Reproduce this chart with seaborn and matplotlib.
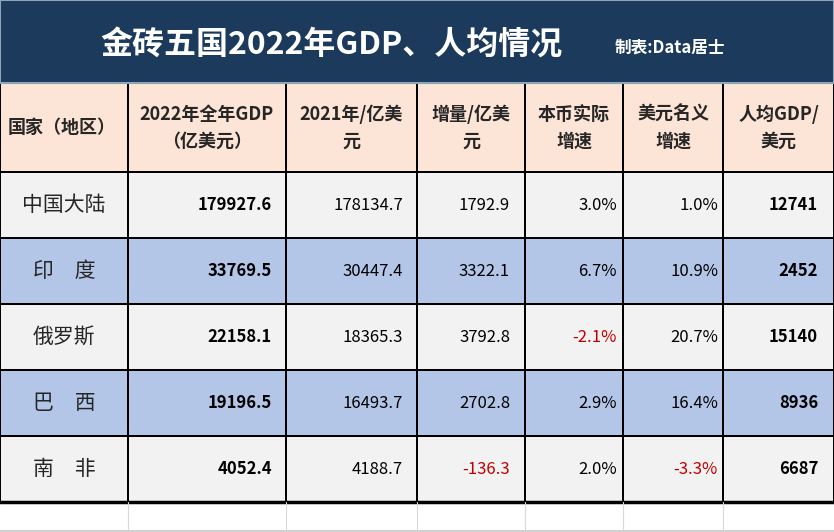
"""
BRICS 2022 GDP table recreated with seaborn heatmaps (one per column).
"""

# =============== IMPORTS ===============
import numpy as np
import matplotlib.pyplot as plt
import seaborn as sns
from matplotlib.colors import ListedColormap
from matplotlib.patches import Rectangle
from matplotlib.lines import Line2D


# =============== DATA ===============
title = "金砖五国2022年GDP、人均情况"
credit = "制表:Data居士"

headers = [
    "国家（地区）",
    "2022年全年GDP\n（亿美元）",
    "2021年/亿美\n元",
    "增量/亿美\n元",
    "本币实际\n增速",
    "美元名义\n增速",
    "人均GDP/\n美元",
]

countries = ["中国大陆", "印　度", "俄罗斯", "巴　西", "南　非"]
gdp_2022 = [179927.6, 33769.5, 22158.1, 19196.5, 4052.4]
gdp_2021 = [178134.7, 30447.4, 18365.3, 16493.7, 4188.7]
increase = [1792.9, 3322.1, 3792.8, 2702.8, -136.3]
local_growth = [3.0, 6.7, -2.1, 2.9, 2.0]
usd_growth = [1.0, 10.9, 20.7, 16.4, -3.3]
per_capita = [12741, 2452, 15140, 8936, 6687]

# row shading: 0 = light gray, 1 = blue
row_shade = [0, 1, 0, 1, 0]


# =============== STYLE ===============
sns.set_style("white")
plt.rcParams["font.family"] = ["Noto Sans CJK SC", "DejaVu Sans"]

NAVY = "#1C3A5B"
PEACH = "#FCE4D6"
GRAY = "#F2F2F2"
BLUE = "#B4C6E7"
RED = "#C00000"

W, H = 834, 532
col_edges = [0, 128, 286, 417, 525, 623, 723, 834]
header_top, header_bottom, body_bottom = 83, 172, 502


def rect(x0, x1, y0, y1):
    return [x0 / W, 1 - y1 / H, (x1 - x0) / W, (y1 - y0) / H]


fig = plt.figure(figsize=(W / 100, H / 100), dpi=100)
fig.patch.set_facecolor("white")

# title band
fig.add_artist(Rectangle((0, 1 - header_top / H), 1, header_top / H,
                         transform=fig.transFigure, facecolor=NAVY,
                         edgecolor="#8FA3B8", linewidth=1.5))
fig.text(331 / W, 1 - 46 / H, title, color="white", fontsize=23,
         fontweight="bold", ha="center", va="center")
fig.text(670 / W, 1 - 47 / H, credit, color="white", fontsize=12,
         fontweight="bold", ha="center", va="center")


# =============== CELL TEXTS ===============
def fmt1(v):
    return f"{v:.1f}"


def pct(v):
    return f"{v:.1f}%"


columns = [
    ([c for c in countries], "center", False, [False] * 5),
    ([fmt1(v) for v in gdp_2022], "right", True, [False] * 5),
    ([fmt1(v) for v in gdp_2021], "right", False, [False] * 5),
    ([fmt1(v) for v in increase], "right", False, [v < 0 for v in increase]),
    ([pct(v) for v in local_growth], "right", False, [v < 0 for v in local_growth]),
    ([pct(v) for v in usd_growth], "right", False, [v < 0 for v in usd_growth]),
    ([str(v) for v in per_capita], "right", True, [False] * 5),
]
right_pad = [0, 14, 14, 15, 6, 5, 16]

body_cmap = ListedColormap([GRAY, BLUE])
head_cmap = ListedColormap([PEACH])

for i in range(7):
    x0, x1 = col_edges[i], col_edges[i + 1]
    width = x1 - x0

    # header cell
    axh = fig.add_axes(rect(x0, x1, header_top, header_bottom))
    sns.heatmap(np.zeros((1, 1)), ax=axh, cmap=head_cmap, cbar=False,
                linewidths=1.2, linecolor="black",
                xticklabels=False, yticklabels=False)
    if i == 0:
        axh.text(8 / width, 0.5, headers[i], ha="left", va="center",
                 fontsize=13, fontweight="bold", transform=axh.transData)
    else:
        axh.text(0.5, 0.5, headers[i], ha="center", va="center",
                 fontsize=13, fontweight="bold", linespacing=1.5)

    # body cells
    axb = fig.add_axes(rect(x0, x1, header_bottom, body_bottom))
    sns.heatmap(np.array(row_shade).reshape(-1, 1), ax=axb, cmap=body_cmap,
                vmin=0, vmax=1, cbar=False, linewidths=1.2, linecolor="black",
                xticklabels=False, yticklabels=False)
    labels, align, bold, neg = columns[i]
    for r, lab in enumerate(labels):
        if align == "center":
            axb.text(0.5, r + 0.5, lab, ha="center", va="center",
                     fontsize=15, fontweight="medium")
        else:
            axb.text(1 - right_pad[i] / width, r + 0.5, lab, ha="right",
                     va="center", fontsize=12,
                     fontweight="bold" if bold else "normal",
                     color=RED if neg[r] else "black")

# thick bottom border of the table
fig.add_artist(Line2D([0, 1], [1 - body_bottom / H] * 2,
                      transform=fig.transFigure, color="black", linewidth=2.5))

# empty spreadsheet row below the table
for x in col_edges[1:-1]:
    fig.add_artist(Line2D([x / W] * 2, [0, 1 - body_bottom / H],
                          transform=fig.transFigure, color="#D9D9D9",
                          linewidth=0.8))
fig.add_artist(Line2D([0, 1], [1.5 / H] * 2, transform=fig.transFigure,
                      color="#D0D0D0", linewidth=1.5))

fig.savefig("out.png", dpi=100, facecolor=fig.get_facecolor())
plt.close(fig)
